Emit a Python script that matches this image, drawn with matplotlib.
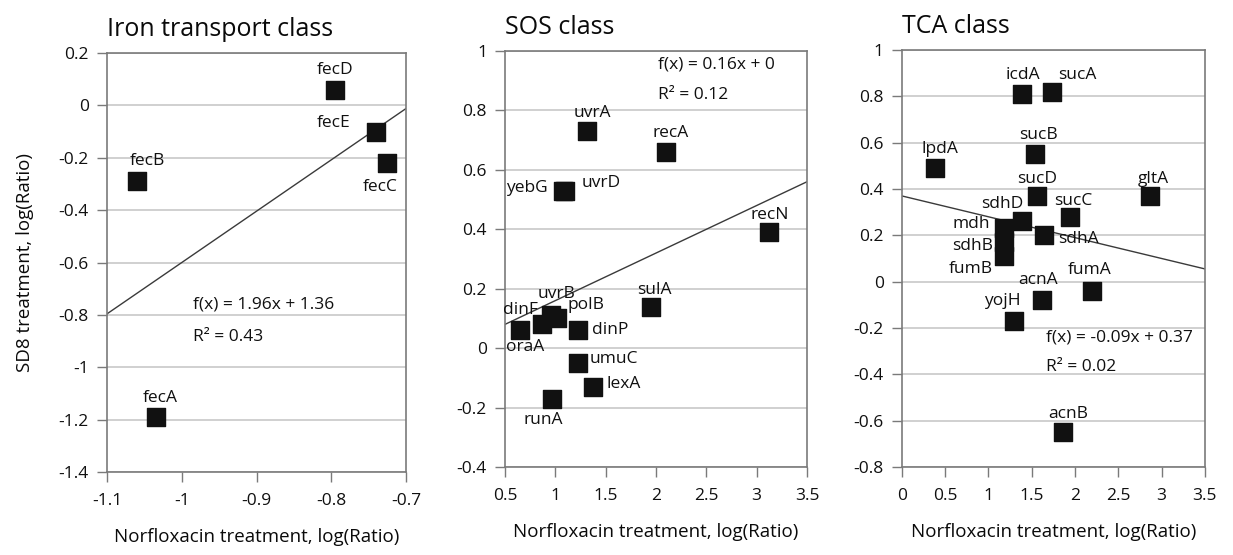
import numpy as np
import matplotlib
matplotlib.use("Agg")
import matplotlib.pyplot as plt

plt.rcParams["font.family"] = ["Open Sans", "DejaVu Sans"]
plt.rcParams["font.weight"] = 500
plt.rcParams["axes.unicode_minus"] = False

# ---- Iron transport class ----
iron_genes = ["fecD", "fecE", "fecC", "fecB", "fecA"]
iron_norflox = [-0.795, -0.74, -0.725, -1.06, -1.035]
iron_sd8 = [0.06, -0.10, -0.22, -0.29, -1.19]
iron_fit = (1.96, 1.36, 0.43)

# ---- SOS class ----
sos_genes = ["uvrA", "recA", "yebG", "uvrD", "recN", "sulA", "uvrB", "dinF",
             "polB", "dinP", "oraA", "umuC", "lexA", "runA"]
sos_norflox = [1.31, 2.10, 1.08, 1.10, 3.12, 1.95, 0.96, 0.87,
               1.02, 1.22, 0.65, 1.22, 1.37, 0.97]
sos_sd8 = [0.73, 0.66, 0.53, 0.53, 0.39, 0.14, 0.11, 0.08,
           0.10, 0.06, 0.06, -0.05, -0.13, -0.17]
sos_fit = (0.16, 0.0, 0.12)

# ---- TCA class ----
tca_genes = ["icdA", "sucA", "lpdA", "sucB", "sucD", "gltA", "sucC", "sdhD",
             "mdh", "sdhB", "fumB", "sdhA", "fumA", "acnA", "yojH", "acnB"]
tca_norflox = [1.39, 1.73, 0.38, 1.54, 1.56, 2.87, 1.94, 1.39,
               1.18, 1.18, 1.18, 1.64, 2.20, 1.62, 1.30, 1.86]
tca_sd8 = [0.81, 0.82, 0.49, 0.55, 0.37, 0.37, 0.28, 0.26,
           0.23, 0.17, 0.11, 0.20, -0.04, -0.08, -0.17, -0.65]
tca_fit = (-0.09, 0.37, 0.02)

# label placement relative to each marker, in pixels: (dx, dy, ha)
iron_lbl = {"fecD": (0, 20, "center"), "fecE": (-26, 9, "right"),
            "fecC": (-7, -24, "center"), "fecB": (11, 20, "center"),
            "fecA": (5, 19, "center")}
sos_lbl = {"uvrA": (6, 18, "center"), "recA": (5, 19, "center"),
           "yebG": (-16, 3, "right"), "uvrD": (16, 8, "left"),
           "recN": (1, 17, "center"), "sulA": (3, 17, "center"),
           "uvrB": (5, 21, "center"), "dinF": (-22, 14, "center"),
           "polB": (29, 13, "center"), "dinP": (14, 0, "left"),
           "oraA": (5, -17, "center"), "umuC": (12, 4, "left"),
           "lexA": (14, 3, "left"), "runA": (-9, -21, "center")}
tca_lbl = {"icdA": (1, 19, "center"), "sucA": (26, 17, "center"),
           "lpdA": (5, 19, "center"), "sucB": (3, 19, "center"),
           "sucD": (0, 17, "center"), "gltA": (3, 17, "center"),
           "sucC": (3, 16, "center"), "sdhD": (-20, 17, "center"),
           "mdh": (-14, 4, "right"), "sdhB": (-11, -4, "right"),
           "fumB": (-11, -13, "right"), "sdhA": (14, -4, "left"),
           "fumA": (-3, 21, "center"), "acnA": (-4, 20, "center"),
           "yojH": (-12, 20, "center"), "acnB": (5, 18, "center")}

panels = [
    dict(title="Iron transport class", genes=iron_genes, x=iron_norflox, y=iron_sd8,
         fit=iron_fit, lbl=iron_lbl, rect=[0.0868, 0.1495, 0.2425, 0.755],
         xlim=(-1.1, -0.7), xticks=[-1.1, -1.0, -0.9, -0.8, -0.7],
         ylim=(-1.4, 0.2), yticks=np.arange(-1.4, 0.21, 0.2),
         eq_pos=(-0.985, -0.762), r2_pos=(-0.985, -0.884), ylabel=True),
    dict(title="SOS class", genes=sos_genes, x=sos_norflox, y=sos_sd8,
         fit=sos_fit, lbl=sos_lbl, rect=[0.4096, 0.1586, 0.2449, 0.7495],
         xlim=(0.5, 3.5), xticks=np.arange(0.5, 3.51, 0.5),
         ylim=(-0.4, 1.0), yticks=np.arange(-0.4, 1.01, 0.2),
         eq_pos=(2.02, 0.953), r2_pos=(2.02, 0.852), ylabel=False),
    dict(title="TCA class", genes=tca_genes, x=tca_norflox, y=tca_sd8,
         fit=tca_fit, lbl=tca_lbl, rect=[0.7315, 0.1586, 0.2457, 0.7513],
         xlim=(0.0, 3.5), xticks=np.arange(0.0, 3.51, 0.5),
         ylim=(-0.8, 1.0), yticks=np.arange(-0.8, 1.01, 0.2),
         eq_pos=(1.67, -0.239), r2_pos=(1.67, -0.368), ylabel=False),
]


def fmt(v):
    v = round(float(v), 2)
    if v == 0:
        return "0"
    return f"{v:g}"


fig = plt.figure(figsize=(12.33, 5.55), dpi=100)
spine_c = "#7a7a7a"
grid_c = "#c4c4c4"
ink = "#101010"

for p in panels:
    ax = fig.add_axes(p["rect"])
    ax.set_xlim(*p["xlim"])
    ax.set_ylim(*p["ylim"])
    ax.set_xticks(p["xticks"])
    ax.set_xticklabels([fmt(v) for v in p["xticks"]])
    ax.set_yticks(p["yticks"])
    ax.set_yticklabels([fmt(v) for v in p["yticks"]])
    ax.tick_params(axis="both", direction="out", length=7, width=1,
                   color=spine_c, labelsize=12.5, labelcolor=ink)
    ax.tick_params(axis="y", pad=6)
    ax.tick_params(axis="x", pad=8)
    for s in ax.spines.values():
        s.set_color(spine_c)
        s.set_linewidth(1.2)
    ax.yaxis.grid(True, color=grid_c, linewidth=1.1)
    ax.set_axisbelow(True)

    # linear trend line from the stated equation
    m, b, r2 = p["fit"]
    xs = np.array(p["xlim"])
    ax.plot(xs, m * xs + b, color="#3a3a3a", linewidth=1.0, zorder=2)

    ax.scatter(p["x"], p["y"], marker="s", s=180, color="#111111",
               edgecolors="#111111", zorder=3)

    for g, xv, yv in zip(p["genes"], p["x"], p["y"]):
        dx, dy, ha = p["lbl"][g]
        ax.annotate(g, (xv, yv), xytext=(dx, dy), textcoords="offset pixels",
                    ha=ha, va="center", fontsize=12.5, color=ink, zorder=4)

    sign = "+" if b >= 0 else "-"
    eq = f"f(x) = {m:g}x {sign} {abs(b):g}"
    ax.text(*p["eq_pos"], eq, fontsize=12.5, ha="left", va="center", color=ink)
    ax.text(*p["r2_pos"], f"R² = {r2:.2f}", fontsize=12.5, ha="left", va="center",
            color=ink)

    ax.set_title(p["title"], loc="left", fontsize=18, pad=12, color="#0a0a0a")
    ax.set_xlabel("Norfloxacin treatment, log(Ratio)", fontsize=13.5,
                  labelpad=14, color="#0a0a0a")
    if p["ylabel"]:
        ax.set_ylabel("SD8 treatment, log(Ratio)", fontsize=13.5, labelpad=18,
                      color="#0a0a0a")

fig.savefig("out.png", dpi=100)
